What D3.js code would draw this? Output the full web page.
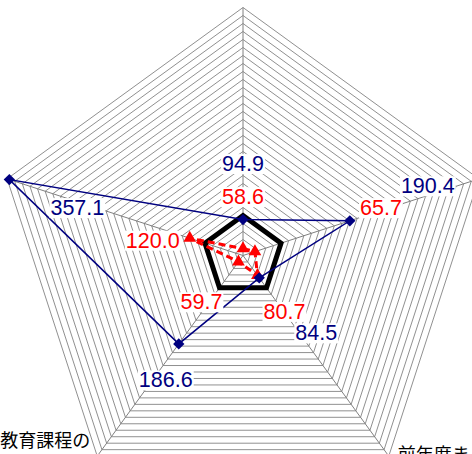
<!DOCTYPE html>
<html>
<head>
<meta charset="utf-8">
<script src="https://cdn.jsdelivr.net/npm/d3@7"></script>
<style>
  body { margin: 0; background: #fff; }
  svg { display: block; }
</style>
</head>
<body>
<div id="radar"></div>
<script>
// =====================
// DATA
// =====================
// axis order: top, right, bottom-right, bottom-left, left
const categories = ["", "", "前年度ま", "教育課程の", ""];
const seriesBlue = [94.9, 190.4, 84.5, 186.6, 357.1];
const seriesRed = [58.6, 65.7, 80.7, 59.7, 120.0];
const seriesBase = [100, 100, 100, 100, 100];
const axisMin = 50;
const axisMax = 360;
const axisStep = 10;

// label placement (offset of label centre from its point)
const blueLabelOffsets = [[0, -56], [78, -35], [57, 55], [-13, 36], [68, 28]];
const redLabelOffsets = [[0, -52], [126, -44], [27, 36], [-37, 40], [-37, 2]];

// =====================
// SVG SETUP
// =====================
const width = 472, height = 454;
const cx = 243, cy = 255.5;

const svg = d3.select("#radar")
  .append("svg")
  .attr("width", width)
  .attr("height", height);

const r = d3.scaleLinear()
  .domain([axisMin, axisMax])
  .range([0, 248]);

const n = categories.length;
const angle = i => -Math.PI / 2 + i * 2 * Math.PI / n;
const pt = (v, i) => [cx + r(v) * Math.cos(angle(i)), cy + r(v) * Math.sin(angle(i))];

// =====================
// GRID
// =====================
const rings = r.ticks((axisMax - axisMin) / axisStep).filter(v => v > axisMin);
const grid = svg.append("g");

grid.selectAll("polygon")
  .data(rings)
  .enter()
  .append("polygon")
  .attr("points", v => d3.range(n).map(i => pt(v, i).join(",")).join(" "))
  .attr("fill", "none")
  .attr("stroke", "#909090")
  .attr("stroke-width", 1);

grid.selectAll("line")
  .data(d3.range(n))
  .enter()
  .append("line")
  .attr("x1", cx)
  .attr("y1", cy)
  .attr("x2", i => pt(axisMax, i)[0])
  .attr("y2", i => pt(axisMax, i)[1])
  .attr("stroke", "#808080")
  .attr("stroke-width", 1);

// =====================
// SERIES
// =====================
const line = d3.line().curve(d3.curveLinearClosed);

svg.append("path")
  .attr("d", line(seriesBase.map(pt)))
  .attr("fill", "none")
  .attr("stroke", "#000")
  .attr("stroke-width", 5)
  .attr("stroke-linejoin", "miter");

svg.append("path")
  .attr("d", line(seriesRed.map(pt)))
  .attr("fill", "none")
  .attr("stroke", "#ff0000")
  .attr("stroke-width", 3)
  .attr("stroke-dasharray", "7,4");

svg.append("g")
  .selectAll("path")
  .data(seriesRed)
  .enter()
  .append("path")
  .attr("d", d3.symbol(d3.symbolTriangle, 70))
  .attr("transform", (v, i) => `translate(${pt(v, i)})`)
  .attr("fill", "#ff0000");

svg.append("path")
  .attr("d", line(seriesBlue.map(pt)))
  .attr("fill", "none")
  .attr("stroke", "#000080")
  .attr("stroke-width", 1.5);

svg.append("g")
  .selectAll("path")
  .data(seriesBlue)
  .enter()
  .append("path")
  .attr("d", d3.symbol(d3.symbolSquare, 64))
  .attr("transform", (v, i) => `translate(${pt(v, i)}) rotate(45)`)
  .attr("fill", "#000080");

// =====================
// DATA LABELS
// =====================
function drawLabels(values, offsets, color) {
  const g = svg.append("g");
  values.forEach((v, i) => {
    const [x, y] = pt(v, i);
    const lx = x + offsets[i][0], ly = y + offsets[i][1];
    const t = g.append("text")
      .attr("x", lx)
      .attr("y", ly)
      .attr("dy", "0.35em")
      .attr("text-anchor", "middle")
      .style("font-family", "'Liberation Sans', Arial, sans-serif")
      .style("font-size", "21.5px")
      .style("fill", color)
      .text(v.toFixed(1));
    const b = t.node().getBBox();
    g.insert("rect", () => t.node())
      .attr("x", b.x - 1)
      .attr("y", b.y + 2)
      .attr("width", b.width + 2)
      .attr("height", b.height - 4)
      .attr("fill", "#fff");
  });
}
drawLabels(seriesBlue, blueLabelOffsets, "#000080");
drawLabels(seriesRed, redLabelOffsets, "#ff0000");

// =====================
// CATEGORY LABELS
// =====================
const catFont = "'Noto Sans CJK JP', sans-serif";
const bl = pt(axisMax, 3), br = pt(axisMax, 2);

svg.append("text")
  .attr("x", bl[0] - 7)
  .attr("y", 447)
  .attr("text-anchor", "end")
  .style("font-family", catFont)
  .style("font-size", "18px")
  .style("fill", "#000")
  .text(categories[3]);

svg.append("text")
  .attr("x", br[0] + 9)
  .attr("y", 461)
  .attr("text-anchor", "start")
  .style("font-family", catFont)
  .style("font-size", "18px")
  .style("fill", "#000")
  .text(categories[2]);
</script>
</body>
</html>
